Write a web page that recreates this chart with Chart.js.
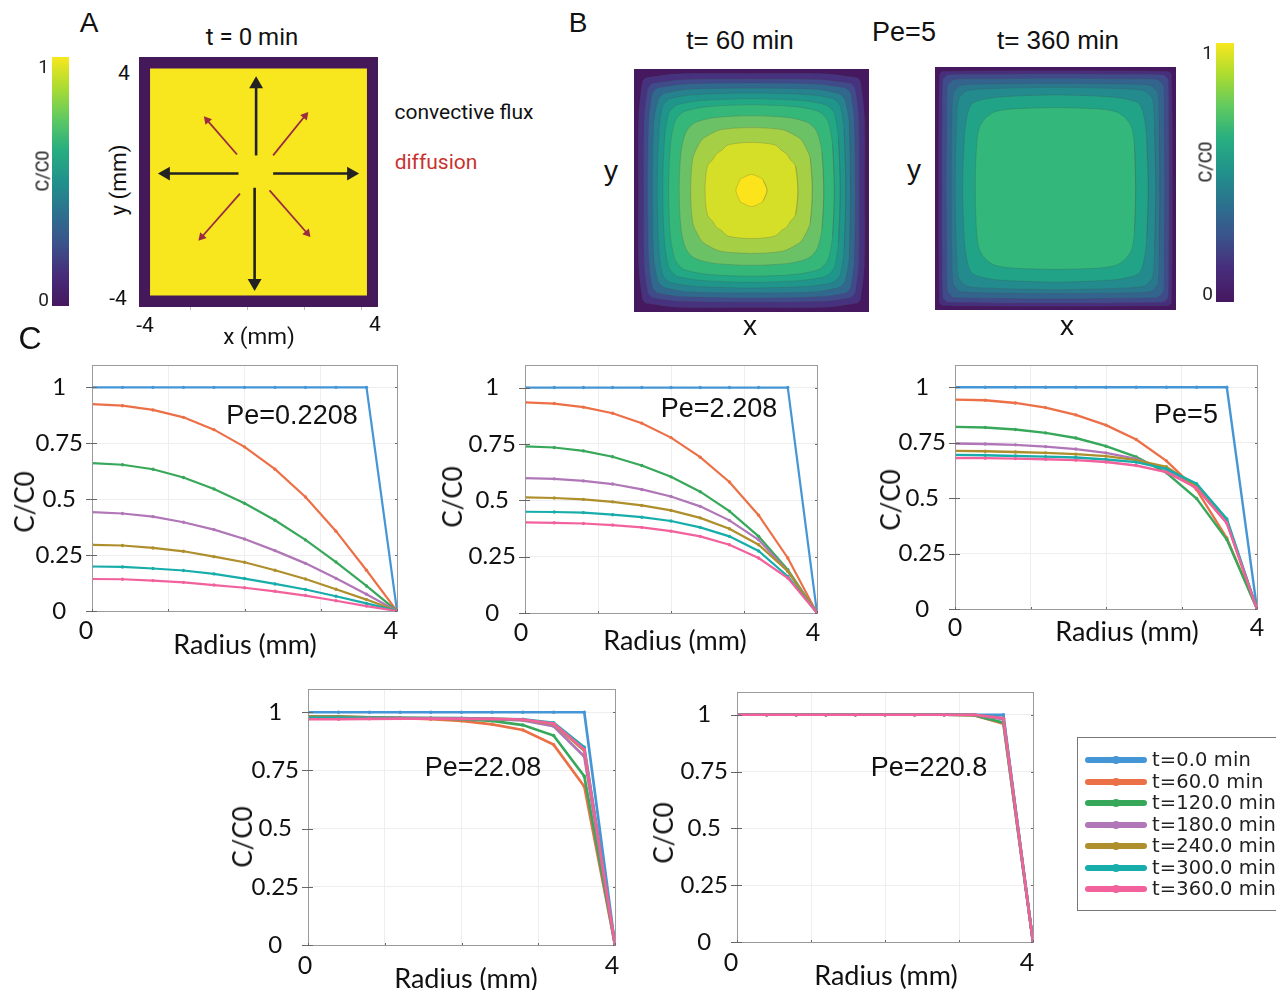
<!DOCTYPE html>
<html>
<head>
<meta charset="utf-8">
<script src="https://cdn.jsdelivr.net/npm/chart.js@4"></script>
<style>
html, body { margin: 0; padding: 0; background: #fff; }
#page { position: relative; width: 1276px; height: 990px; overflow: hidden; }
canvas { position: absolute; }
.lbl { position: absolute; white-space: nowrap; color: #111; transform: translate(-50%, -50%); z-index: 2; }
#legend { position: absolute; left: 1077px; top: 737px; width: 220px; height: 172px; border: 1px solid #777; background: #fff; z-index: 3; }
.row { position: absolute; left: 0; height: 20px; width: 220px; }
.swatch { position: absolute; left: 7px; top: 7px; width: 62px; height: 6px; border-radius: 3px; }
.dot { position: absolute; left: 34px; top: 6px; width: 8px; height: 8px; border-radius: 4px; }
.row span { position: absolute; left: 74px; top: -2px; font: 19.5px "DejaVu Sans"; color: #222; letter-spacing: .1px; }
</style>
</head>
<body>
<div id="page"></div>
<script>
// radial positions, same for every Pe panel
const radius = [0, 0.4, 0.8, 1.2, 1.6, 2.0, 2.4, 2.8, 3.2, 3.6, 4.0];
const yTicks = [0, 0.25, 0.5, 0.75, 1];
const xTicks = [0, 1, 2, 3, 4];
const timeLabels = ['t=0.0 min', 't=60.0 min', 't=120.0 min', 't=180.0 min', 't=240.0 min', 't=300.0 min', 't=360.0 min'];
const lineColors = ['#4596d6', '#ec7047', '#37a85a', '#b076b8', '#ae8f2c', '#16adab', '#f2619c'];

const t0 = [1, 1, 1, 1, 1, 1, 1, 1, 1, 1, 0];

const pe02_60 = [.925, .918, .899, .866, .811, .734, .634, .510, .357, .182, 0];
const pe02_120 = [.661, .654, .634, .597, .546, .482, .406, .318, .219, .112, 0];
const pe02_180 = [.442, .436, .422, .397, .364, .322, .270, .213, .146, .075, 0];
const pe02_240 = [.296, .293, .282, .267, .243, .218, .182, .143, .097, .051, 0];
const pe02_300 = [.199, .197, .190, .181, .166, .145, .121, .096, .066, .034, 0];
const pe02_360 = [.143, .142, .136, .128, .116, .104, .088, .069, .046, .022, 0];

const pe2_60 = [.934, .929, .913, .886, .842, .778, .691, .581, .434, .244, 0];
const pe2_120 = [.739, .734, .719, .693, .654, .604, .538, .452, .340, .192, 0];
const pe2_180 = [.598, .595, .586, .572, .548, .517, .473, .411, .325, .185, 0];
const pe2_240 = [.513, .510, .504, .493, .477, .455, .422, .374, .303, .185, 0];
const pe2_300 = [.449, .448, .445, .436, .425, .408, .380, .340, .275, .162, 0];
const pe2_360 = [.402, .400, .397, .390, .380, .363, .340, .303, .244, .155, 0];

const pe5_60 = [.944, .941, .929, .908, .875, .829, .764, .668, .538, .320, 0];
const pe5_120 = [.821, .818, .809, .794, .771, .734, .686, .614, .498, .313, 0];
const pe5_180 = [.746, .744, .740, .732, .721, .704, .677, .629, .546, .388, 0];
const pe5_240 = [.713, .711, .708, .704, .698, .689, .671, .641, .553, .395, 0];
const pe5_300 = [.695, .693, .690, .687, .683, .674, .662, .632, .565, .406, 0];
const pe5_360 = [.681, .680, .678, .675, .671, .663, .647, .617, .546, .388, 0];

const pe22_60 = [.982, .982, .978, .975, .970, .963, .948, .924, .861, .681, 0];
const pe22_120 = [.980, .980, .978, .976, .974, .970, .963, .945, .900, .725, 0];
const pe22_180 = [.975, .975, .975, .975, .974, .972, .970, .965, .940, .810, 0];
const pe22_240 = [.975, .975, .975, .975, .975, .974, .972, .968, .950, .835, 0];
const pe22_300 = [.975, .975, .975, .975, .975, .975, .972, .970, .955, .850, 0];
const pe22_360 = [.970, .970, .972, .973, .973, .973, .972, .969, .952, .840, 0];

const pe220_60 = [1, 1, 1, 1, 1, 1, 1, 1, .998, .960, 0];
const pe220_120 = [1, 1, 1, 1, 1, 1, 1, 1, .998, .965, 0];
const pe220_180 = [1, 1, 1, 1, 1, 1, 1, 1, .999, .980, 0];
const pe220_240 = [1, 1, 1, 1, 1, 1, 1, 1, .999, .985, 0];
const pe220_300 = [1, 1, 1, 1, 1, 1, 1, 1, 1, .985, 0];
const pe220_360 = [1, 1, 1, 1, 1, 1, 1, 1, 1, .985, 0];

// panel A, square outlines and arrows in mm
const domainX = [-4, 4, 4, -4, -4];
const domainY = [-4, -4, 4, 4, -4];
const coreX = [-3.63, 3.63, 3.63, -3.63, -3.63];
const coreY = [-3.63, -3.63, 3.63, 3.63, -3.63];
const blackArrowsX = [[-0.08, -0.08], [-0.13, -0.13], [-0.67, -3.1], [0.49, 3.1]];
const blackArrowsY = [[0.85, 3.13], [-0.18, -3.23], [0.27, 0.27], [0.27, 0.27]];
const blackArrowAngles = [0, 180, 270, 90];
const redArrowsX = [[0.49, 1.56], [-0.72, -1.72], [-0.62, -1.9], [0.37, 1.63]];
const redArrowsY = [[0.85, 2.12], [0.88, 1.98], [-0.37, -1.76], [-0.27, -1.64]];
const redArrowAngles = [40, -41, 222, 139];
const sideTicks = [-2.29, -0.38, 1.53, 3.44];

// panel B contours in mm: on-axis half width, two shoulder points (p, s) (q, r), corner diagonal
const ring60A = [3.85, 3.67, 3.54, 3.37, 3.21, 3.02, 2.82, 2.46, 2.07, 1.58, 0.53];
const ring60P = [3.84, 3.65, 3.50, 3.33, 3.15, 2.96, 2.76, 2.40, 2.00, 1.50, 0.40];
const ring60S = [2.50, 2.39, 2.30, 2.19, 2.00, 1.70, 1.50, 1.25, 1.05, 0.80, 0.34];
const ring60Q = [3.71, 3.53, 3.38, 3.19, 3.03, 2.83, 2.62, 2.26, 1.83, 1.31, 0.39];
const ring60R = [3.58, 3.36, 3.19, 2.97, 2.76, 2.51, 2.24, 1.86, 1.45, 1.03, 0.36];
const ring60C = [3.66, 3.46, 3.30, 3.10, 2.92, 2.70, 2.47, 2.10, 1.68, 1.20, 0.37];
const ring60Colors = ['#46327e', '#3f4b8a', '#31688e', '#26828e', '#1f958b', '#22a884', '#35b779', '#6bc165', '#a5cf45', '#d6df27', '#fbe41c'];

const ring360A = [3.88, 3.77, 3.63, 3.46, 3.33, 3.08, 2.66];
const ring360P = [3.87, 3.76, 3.61, 3.44, 3.29, 3.03, 2.62];
const ring360S = [2.50, 2.40, 2.30, 2.20, 2.00, 1.60, 1.40];
const ring360Q = [3.85, 3.74, 3.59, 3.40, 3.23, 2.96, 2.53];
const ring360R = [3.75, 3.57, 3.37, 3.13, 2.91, 2.25, 2.00];
const ring360C = [3.81, 3.67, 3.50, 3.29, 3.10, 2.78, 2.32];
const ring360Colors = ['#482f7e', '#3f4b8a', '#33648d', '#2a788e', '#238a8d', '#20a386', '#33b77a'];
const edgeColor = '#45185f';

// colorbar stops
const barStops = [0, 0.13, 0.25, 0.38, 0.5, 0.63, 0.75, 0.88, 1];
const barColors = ['#45185f', '#472d7b', '#3b528b', '#2c728e', '#21918c', '#28ae80', '#5ec962', '#addc30', '#f8e71e'];

const page = document.getElementById('page');

function addCanvas(box, m) {
    const c = document.createElement('canvas');
    c.width = box.r - box.l + m.l + m.r;
    c.height = box.b - box.t + m.t + m.b;
    c.style.left = (box.l - m.l) + 'px';
    c.style.top = (box.t - m.t) + 'px';
    page.appendChild(c);
    return c;
}

function label(text, x, y, size, family, opts) {
    const d = document.createElement('div');
    d.className = 'lbl';
    d.textContent = text;
    d.style.left = x + 'px';
    d.style.top = y + 'px';
    d.style.font = size + 'px ' + family;
    if (opts && opts.color) d.style.color = opts.color;
    if (opts && opts.rot) d.style.transform = 'translate(-50%, -50%) rotate(-90deg)';
    page.appendChild(d);
}

// pin an axis to a fixed band so the plot box lands where it should
function pinAxis(size) {
    return function (scale) {
        if (scale.isHorizontal()) scale.height = size;
        else scale.width = size;
        scale.paddingLeft = scale.paddingRight = scale.paddingTop = scale.paddingBottom = 0;
    };
}

// frame and the short dark tick marks of the matlab style axes
const axisFrame = {
    id: 'axisFrame',
    afterDatasetsDraw(chart) {
        const { ctx, chartArea: a, scales } = chart;
        ctx.save();
        ctx.strokeStyle = '#9a9a9a';
        ctx.lineWidth = 1;
        ctx.strokeRect(a.left + 0.5, a.top + 0.5, a.right - a.left, a.bottom - a.top);
        ctx.strokeStyle = '#666';
        yTicks.forEach(v => {
            const y = Math.round(scales.y.getPixelForValue(v)) + 0.5;
            ctx.beginPath();
            ctx.moveTo(a.left - 6, y);
            ctx.lineTo(a.left + 5, y);
            ctx.moveTo(a.right - 2, y);
            ctx.lineTo(a.right, y);
            ctx.stroke();
        });
        xTicks.forEach(v => {
            const x = Math.round(scales.x.getPixelForValue(v)) + 0.5;
            ctx.beginPath();
            ctx.moveTo(x, a.bottom);
            ctx.lineTo(x, a.bottom - 2);
            ctx.stroke();
        });
        ctx.restore();
    }
};

function initProfileChart(cfg) {
    const canvas = addCanvas(cfg.box, { l: 90, t: 10, r: 20, b: 50 });
    new Chart(canvas, {
        type: 'line',
        data: {
            labels: radius,
            datasets: cfg.series.map((s, i) => ({
                label: timeLabels[i],
                data: s.map((v, j) => ({ x: radius[j], y: v })),
                borderColor: lineColors[i],
                backgroundColor: lineColors[i],
                borderWidth: cfg.width,
                pointRadius: 1.7,
                pointBorderWidth: 0,
                tension: 0,
                order: cfg.series.length - i
            }))
        },
        options: {
            responsive: false,
            animation: false,
            layout: { autoPadding: false, padding: { left: 0, top: 10, right: 20, bottom: 0 } },
            plugins: { legend: { display: false }, tooltip: { enabled: false } },
            scales: {
                x: {
                    type: 'linear', min: 0, max: 4,
                    afterBuildTicks: s => { s.ticks = xTicks.map(v => ({ value: v })); },
                    afterFit: pinAxis(50),
                    grid: { color: '#eeeeee', drawTicks: false },
                    border: { color: '#888' },
                    ticks: {
                        padding: cfg.xPad,
                        labelOffset: cfg.xOff,
                        autoSkip: false,
                        maxRotation: 0,
                        color: '#111',
                        font: { family: 'Lato', size: 25 },
                        callback: v => (v === 0 || v === 4) ? String(v) : ''
                    }
                },
                y: {
                    min: 0, max: 1.1,
                    afterBuildTicks: s => { s.ticks = yTicks.map(v => ({ value: v })); },
                    afterFit: pinAxis(90),
                    grid: { color: '#eeeeee', drawTicks: false },
                    border: { color: '#888' },
                    ticks: {
                        padding: 9,
                        crossAlign: 'center',
                        autoSkip: false,
                        color: '#111',
                        font: { family: 'Lato', size: 24 },
                        callback: v => String(v)
                    }
                }
            }
        },
        plugins: [axisFrame]
    });
}

function initColorbar(box, lo, hi) {
    const canvas = addCanvas(box, { l: 30, t: 8, r: 4, b: 8 });
    new Chart(canvas, {
        type: 'bar',
        data: {
            labels: ['C/C0'],
            datasets: [{
                data: [[lo, hi]],
                barPercentage: 1,
                categoryPercentage: 1,
                backgroundColor: ctx => {
                    const a = ctx.chart.chartArea;
                    if (!a) return barColors[0];
                    const g = ctx.chart.ctx.createLinearGradient(0, a.bottom, 0, a.top);
                    barStops.forEach((p, i) => g.addColorStop(p, barColors[i]));
                    return g;
                }
            }]
        },
        options: {
            responsive: false,
            animation: false,
            layout: { autoPadding: false, padding: { left: 0, top: 8, right: 4, bottom: 8 } },
            plugins: { legend: { display: false }, tooltip: { enabled: false } },
            scales: {
                x: { display: false },
                y: {
                    min: lo, max: hi,
                    afterBuildTicks: s => { s.ticks = [{ value: 0 }, { value: 1 }]; },
                    afterFit: pinAxis(30),
                    grid: { display: false, drawTicks: false },
                    border: { display: false },
                    ticks: { padding: 3, labelOffset: 2, color: '#222', font: { family: 'Roboto', size: 19 }, callback: v => String(v) }
                }
            }
        }
    });
}

function shapeDataset(xs, ys, color, lineColor) {
    return {
        data: xs.map((x, i) => ({ x: x, y: ys[i] })),
        showLine: true,
        fill: 'shape',
        backgroundColor: color,
        borderColor: lineColor || color,
        borderWidth: lineColor ? 0.7 : 0,
        pointRadius: 0,
        tension: 0
    };
}

function mmScales(tickList, left, bottom) {
    return {
        x: {
            type: 'linear', min: -4, max: 4,
            afterFit: pinAxis(bottom),
            afterBuildTicks: s => { s.ticks = tickList.map(v => ({ value: v })); },
            grid: { drawOnChartArea: false, drawTicks: tickList.length > 0, tickLength: 3, tickColor: '#bbb' },
            border: { display: false },
            ticks: { display: false }
        },
        y: {
            type: 'linear', min: -4, max: 4,
            afterFit: pinAxis(left),
            grid: { display: false },
            border: { display: false },
            ticks: { display: false }
        }
    };
}

function arrowDatasets(xs, ys, angles, color, width, headSize) {
    return xs.map((x, i) => ({
        data: x.map((v, j) => ({ x: v, y: ys[i][j] })),
        showLine: true,
        borderColor: color,
        backgroundColor: color,
        borderWidth: width,
        pointStyle: 'triangle',
        pointRadius: [0, headSize],
        pointBorderWidth: 0,
        pointRotation: angles[i]
    }));
}

function initDomainChart(box) {
    const canvas = addCanvas(box, { l: 4, t: 4, r: 4, b: 6 });
    const shapes = [
        shapeDataset(domainX, domainY, '#45185a'),
        shapeDataset(coreX, coreY, '#f8e71e')
    ];
    const arrows = arrowDatasets(blackArrowsX, blackArrowsY, blackArrowAngles, '#222', 2.6, 8)
        .concat(arrowDatasets(redArrowsX, redArrowsY, redArrowAngles, '#9c2b42', 1.8, 5));
    const all = shapes.concat(arrows);
    all.forEach((d, i) => { d.order = all.length - i; });
    new Chart(canvas, {
        type: 'scatter',
        data: { datasets: all },
        options: {
            responsive: false,
            animation: false,
            layout: { autoPadding: false, padding: { left: 0, top: 4, right: 4, bottom: 0 } },
            plugins: { legend: { display: false }, tooltip: { enabled: false } },
            scales: mmScales(sideTicks, 4, 6)
        }
    });
}

function ringDataset(a, p, s, q, r, c, color) {
    // walk the contour round once from the +x axis, overlapping the start so the join stays smooth
    const xs = [p, a, p, q, c, r, s, 0, -s, -r, -c, -q, -p, -a, -p, -q, -c, -r, -s, 0, s, r, c, q, p, a, p];
    const ys = [-s, 0, s, r, c, q, p, a, p, q, c, r, s, 0, -s, -r, -c, -q, -p, -a, -p, -q, -c, -r, -s, 0, s];
    const d = shapeDataset(xs, ys, color, 'rgba(70, 70, 70, 0.3)');
    d.tension = 0.3;
    return d;
}

function initContourChart(box, ring, colors) {
    const canvas = addCanvas(box, { l: 2, t: 2, r: 2, b: 2 });
    const all = [shapeDataset(domainX, domainY, edgeColor)]
        .concat(ring.a.map((a, i) => ringDataset(a, ring.p[i], ring.s[i], ring.q[i], ring.r[i], ring.c[i], colors[i])));
    all.forEach((d, i) => { d.order = all.length - i; });
    new Chart(canvas, {
        type: 'scatter',
        data: { datasets: all },
        options: {
            responsive: false,
            animation: false,
            layout: { autoPadding: false, padding: { left: 0, top: 2, right: 2, bottom: 0 } },
            plugins: { legend: { display: false }, tooltip: { enabled: false } },
            scales: mmScales([], 2, 2)
        }
    });
}

function initLegend() {
    const box = document.createElement('div');
    box.id = 'legend';
    timeLabels.forEach((t, i) => {
        const row = document.createElement('div');
        row.className = 'row';
        row.style.top = (12 + i * 21.5) + 'px';
        row.innerHTML = '<div class="swatch" style="background:' + lineColors[i] + '"></div>' +
            '<div class="dot" style="background:' + lineColors[i] + '"></div><span>' + t + '</span>';
        box.appendChild(row);
    });
    page.appendChild(box);
}

function initLabels() {
    const sans = '"Liberation Sans"';
    const rob = 'Roboto';
    const lato = 'Lato';
    label('A', 89, 23, 28, sans);
    label('B', 578, 23, 28, sans);
    label('C', 30, 338, 32, sans);
    label('t = 0 min', 252, 37, 24, rob);
    label('t= 60 min', 740, 40, 26, sans);
    label('t= 360 min', 1058, 40, 26, sans);
    label('Pe=5', 904, 32, 27, sans);
    label('convective flux', 464, 112, 21, rob);
    label('diffusion', 436, 162, 21, rob, { color: '#c8322f' });
    label('y (mm)', 118, 180, 22.5, rob, { rot: true });
    label('x (mm)', 259, 336, 22.5, rob);
    label('4', 124, 73, 21, rob);
    label('-4', 118, 298, 21, rob);
    label('-4', 145, 325, 21, rob);
    label('4', 375, 324, 21, rob);
    label('y', 611, 171, 28, sans);
    label('x', 750, 326, 28, sans);
    label('y', 914, 170, 28, sans);
    label('x', 1067, 326, 28, sans);
    label('C/C0', 42, 171, 18, rob, { rot: true });
    label('C/C0', 1205, 162, 18, rob, { rot: true });

    label('C/C0', 24, 502, 26, lato, { rot: true });
    label('C/C0', 452, 497, 26, lato, { rot: true });
    label('C/C0', 890, 500, 26, lato, { rot: true });
    label('C/C0', 242, 837, 26, lato, { rot: true });
    label('C/C0', 663, 833, 26, lato, { rot: true });
    label('Radius (mm)', 245, 643, 27, lato);
    label('Radius (mm)', 675, 639, 27, lato);
    label('Radius (mm)', 1127, 630, 27, lato);
    label('Radius (mm)', 466, 977, 27, lato);
    label('Radius (mm)', 886, 974, 27, lato);
    label('Pe=0.2208', 292, 415, 27, sans);
    label('Pe=2.208', 719, 408, 27, sans);
    label('Pe=5', 1186, 414, 27, sans);
    label('Pe=22.08', 483, 767, 27, sans);
    label('Pe=220.8', 929, 767, 27, sans);
}

document.addEventListener('DOMContentLoaded', function () {
    initColorbar({ l: 52, t: 57, r: 69, b: 306 }, -0.03, 1.039);
    initColorbar({ l: 1216, t: 43, r: 1234, b: 302 }, -0.037, 1.037);
    initDomainChart({ l: 139, t: 57, r: 378, b: 307 });
    initContourChart({ l: 634, t: 69, r: 869, b: 312 },
        { a: ring60A, p: ring60P, s: ring60S, q: ring60Q, r: ring60R, c: ring60C }, ring60Colors);
    initContourChart({ l: 935, t: 67, r: 1176, b: 310 },
        { a: ring360A, p: ring360P, s: ring360S, q: ring360Q, r: ring360R, c: ring360C }, ring360Colors);

    initProfileChart({ box: { l: 92, t: 365, r: 397, b: 611 }, width: 2.2, xPad: 5, xOff: -6,
        series: [t0, pe02_60, pe02_120, pe02_180, pe02_240, pe02_300, pe02_360] });
    initProfileChart({ box: { l: 525, t: 365, r: 817, b: 613 }, width: 2.2, xPad: 5, xOff: -4,
        series: [t0, pe2_60, pe2_120, pe2_180, pe2_240, pe2_300, pe2_360] });
    initProfileChart({ box: { l: 955, t: 365, r: 1257, b: 609 }, width: 2.4, xPad: 4, xOff: 0,
        series: [t0, pe5_60, pe5_120, pe5_180, pe5_240, pe5_300, pe5_360] });
    initProfileChart({ box: { l: 308, t: 689, r: 615, b: 945 }, width: 2.7, xPad: 6, xOff: -3,
        series: [t0, pe22_60, pe22_120, pe22_180, pe22_240, pe22_300, pe22_360] });
    initProfileChart({ box: { l: 737, t: 692, r: 1033, b: 942 }, width: 2.7, xPad: 6, xOff: -6,
        series: [t0, pe220_60, pe220_120, pe220_180, pe220_240, pe220_300, pe220_360] });

    initLegend();
    initLabels();
});
</script>
</body>
</html>
